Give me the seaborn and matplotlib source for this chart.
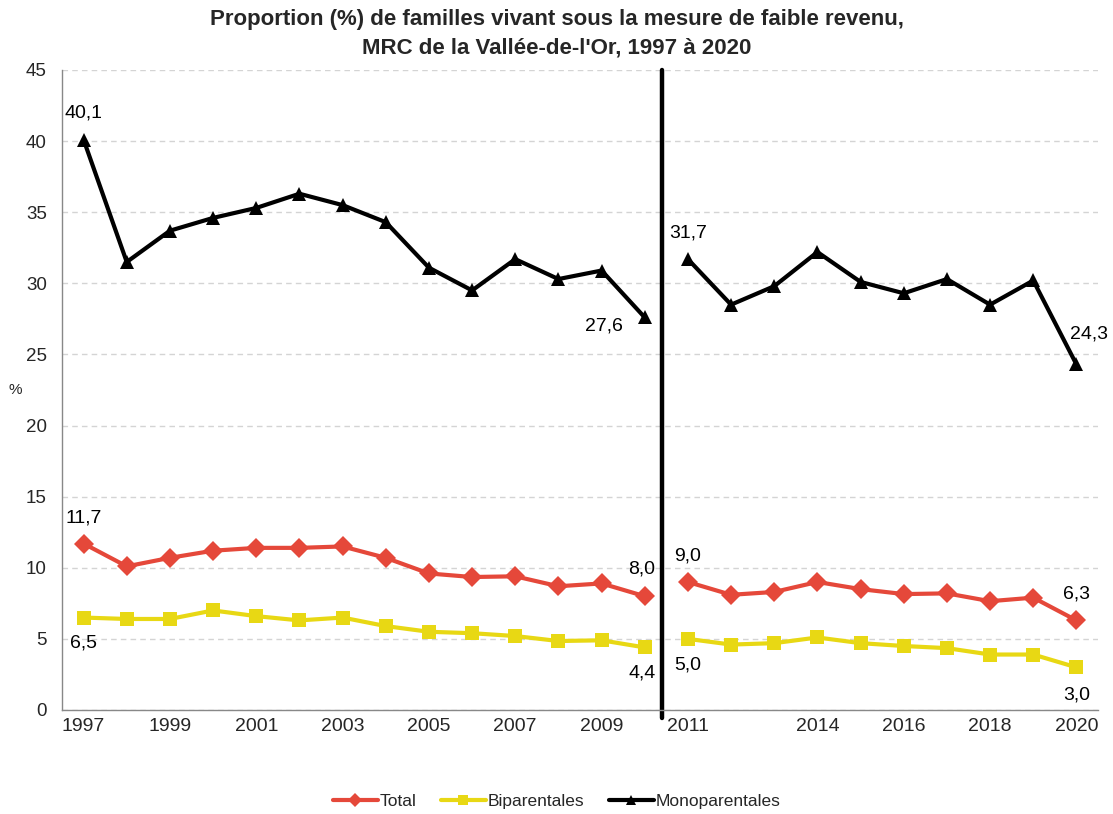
import matplotlib
matplotlib.use("Agg")
import matplotlib.pyplot as plt
from matplotlib.ticker import FixedLocator, FixedFormatter, MultipleLocator
import numpy as np
import pandas as pd
import seaborn as sns

years = list(range(1997, 2021))
total = [11.7, 10.1, 10.7, 11.2, 11.4, 11.4, 11.5, 10.7, 9.6, 9.35, 9.4, 8.7, 8.9, 8.0,
         9.0, 8.1, 8.3, 9.0, 8.5, 8.15, 8.2, 7.65, 7.9, 6.3]
biparentales = [6.5, 6.4, 6.4, 7.0, 6.6, 6.3, 6.5, 5.9, 5.5, 5.4, 5.2, 4.85, 4.9, 4.4,
                5.0, 4.6, 4.7, 5.1, 4.7, 4.5, 4.35, 3.9, 3.9, 3.0]
monoparentales = [40.1, 31.5, 33.7, 34.6, 35.3, 36.3, 35.5, 34.3, 31.1, 29.5, 31.7, 30.3, 30.9, 27.6,
                  31.7, 28.5, 29.8, 32.2, 30.1, 29.3, 30.3, 28.5, 30.2, 24.3]
tick_years = [1997, 1999, 2001, 2003, 2005, 2007, 2009, 2011, 2014, 2016, 2018, 2020]
series_names = ["Total", "Biparentales", "Monoparentales"]
colors = {"Total": "#E5483A", "Biparentales": "#E8D814", "Monoparentales": "#000000"}
markers = {"Total": "D", "Biparentales": "s", "Monoparentales": "^"}

frames = []
for name, vals in zip(series_names, [total, biparentales, monoparentales]):
    frames.append(pd.DataFrame({
        "pos": np.arange(len(years)),
        "year": years,
        "value": vals,
        "serie": name,
        "segment": [0 if y <= 2010 else 1 for y in years],
    }))
df = pd.concat(frames, ignore_index=True)

sns.set_style("white")
plt.rcParams["font.family"] = ["Liberation Sans", "DejaVu Sans"]

fig = plt.figure(figsize=(11.13, 8.14), dpi=100)
ax = fig.add_axes([62 / 1113, 104 / 814, 1036 / 1113, 640 / 814])

sns.lineplot(data=df, x="pos", y="value", hue="serie", style="serie", units="segment",
             estimator=None, palette=colors, markers=markers, dashes=False,
             hue_order=series_names, style_order=series_names,
             linewidth=3, markersize=10, markeredgewidth=0, ax=ax, legend=True)

ax.set_xlim(-0.5, len(years) - 0.5)
ax.set_ylim(0, 45)
ax.yaxis.set_major_locator(MultipleLocator(5))
ax.grid(axis="y", linestyle=(0, (4, 3)), color="#d4d4d4", linewidth=1)
ax.set_axisbelow(True)

tick_pos = [years.index(y) for y in tick_years]
ax.xaxis.set_major_locator(FixedLocator(tick_pos))
ax.xaxis.set_major_formatter(FixedFormatter([str(y) for y in tick_years]))
ax.xaxis.set_minor_locator(FixedLocator(np.arange(-0.5, len(years), 1.0)))
ax.tick_params(axis="x", which="major", length=0, labelsize=14, pad=6)
ax.tick_params(axis="x", which="minor", length=5, color="#888888", width=1)
ax.tick_params(axis="y", which="major", length=5, color="#888888", labelsize=13.5, pad=6)

for side in ["top", "right"]:
    ax.spines[side].set_visible(False)
for side in ["left", "bottom"]:
    ax.spines[side].set_color("#888888")
    ax.spines[side].set_linewidth(1)

ax.set_xlabel("")
ax.set_ylabel("%", rotation=0, fontsize=11, va="center")
ax.yaxis.set_label_coords(-0.045, 0.5)

# break between 2010 and 2011
ax.axvline(years.index(2010) + 0.4, ymin=-0.013, ymax=1, color="black", linewidth=3.2, clip_on=False)

labels = [
    ("Monoparentales", 1997, (0, 27)),
    ("Total", 1997, (0, 26)),
    ("Biparentales", 1997, (0, -25)),
    ("Monoparentales", 2010, (-41, -9)),
    ("Total", 2010, (-3, 27)),
    ("Biparentales", 2010, (-3, -26)),
    ("Monoparentales", 2011, (0, 26)),
    ("Total", 2011, (0, 26)),
    ("Biparentales", 2011, (0, -26)),
    ("Monoparentales", 2020, (13, 30)),
    ("Total", 2020, (0, 26)),
    ("Biparentales", 2020, (0, -28)),
]
lookup = {"Total": total, "Biparentales": biparentales, "Monoparentales": monoparentales}
for name, yr, off in labels:
    i = years.index(yr)
    v = lookup[name][i]
    ax.annotate(f"{v:.1f}".replace(".", ","), (i, v), xytext=off, textcoords="offset pixels",
                ha="center", va="center", fontsize=14, color="black")

handles, lbls = ax.get_legend_handles_labels()
ax.legend(handles, lbls, loc="center", bbox_to_anchor=(0.5, (814 - 801) / 814), bbox_transform=fig.transFigure,
          ncol=3, frameon=False, fontsize=12.5, handlelength=2.6, handletextpad=0.1, columnspacing=1.4,
          markerscale=0.7)

fig.text(0.5, (814 - 20) / 814, "Proportion (%) de familles vivant sous la mesure de faible revenu,",
         ha="center", va="center", fontsize=16, fontweight="bold")
fig.text(0.5, (814 - 48) / 814, "MRC de la Vallée-de-l'Or, 1997 à 2020",
         ha="center", va="center", fontsize=16, fontweight="bold")

fig.savefig("out.png", dpi=100)
